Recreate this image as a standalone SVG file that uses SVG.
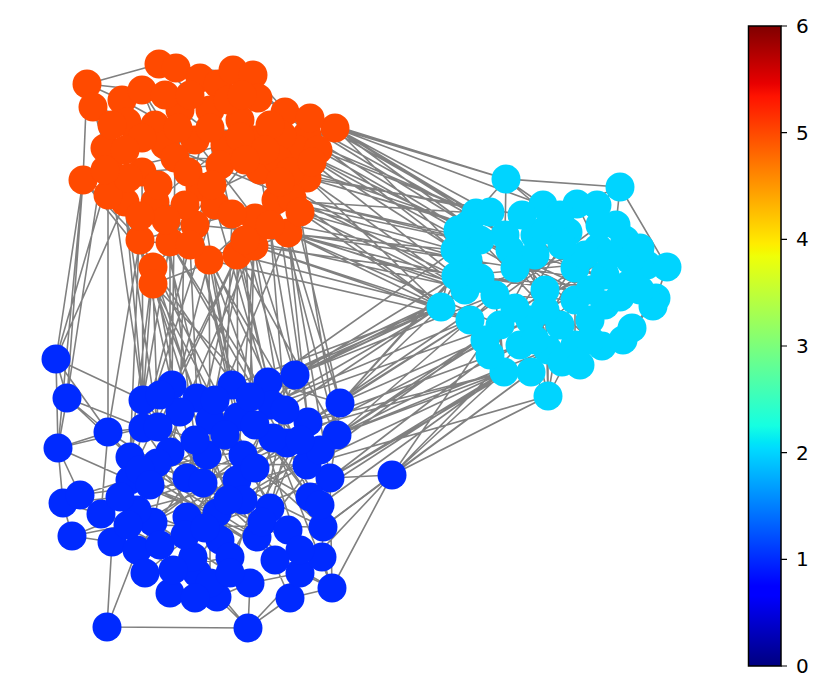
<svg xmlns="http://www.w3.org/2000/svg" width="830" height="699" viewBox="0 0 830 699">
<style>
.e{stroke:#808080;stroke-width:1.6;fill:none}
.o{fill:#FF4A00}
.c{fill:#00D4FF}
.b{fill:#002AFF}
circle{r:14.5px}
.t{font-family:"DejaVu Sans",sans-serif;font-size:20px;fill:#000}
.k{stroke:#000;stroke-width:1.2}
</style>
<defs>
<linearGradient id="jet" x1="0" y1="1" x2="0" y2="0">
<stop offset="0" stop-color="#000080"/>
<stop offset="0.11" stop-color="#0000FF"/>
<stop offset="0.125" stop-color="#0000FF"/>
<stop offset="0.34" stop-color="#00DBFF"/>
<stop offset="0.35" stop-color="#00E6F7"/>
<stop offset="0.375" stop-color="#15FFE2"/>
<stop offset="0.64" stop-color="#EFFF08"/>
<stop offset="0.65" stop-color="#F7F600"/>
<stop offset="0.66" stop-color="#FFEC00"/>
<stop offset="0.89" stop-color="#FF1300"/>
<stop offset="0.91" stop-color="#E80000"/>
<stop offset="1" stop-color="#800000"/>
</linearGradient>
</defs>
<rect width="830" height="699" fill="#fff"/>
<g id="connectors">
<path class="e" d="M87 84L159 64M87 84L142 90M87 84L83 180M87 84L122 100M93 107L105 148M93 107L155 125M159 64L253 75M159 64L210 110M176 68L218 84M200 78L258 98M233 70L285 112M253 75L307 135M258 98L335 128M285 112L335 128M335 128L298 150M335 128L307 178M307 135L307 178M298 150L276 200M105 148L125 202M83 180L125 202M83 180L140 240M83 180L153 267M110 172L153 284M125 202L209 260M140 240L237 255M153 267L195 225M153 284L254 246M209 260L276 200M237 255L288 233M254 246L307 178M288 233L307 135M276 200L335 128M170 242L240 120M195 225L285 112M155 125L255 140M180 110L260 170M165 145L292 198M195 140L255 218M225 145L155 202M142 172L220 165M175 158L278 160M200 187L258 98M155 202L288 233M185 205L298 150M215 205L142 90M127 122L282 135M110 172L225 145M122 100L195 140M142 90L165 145M200 78L175 158M218 84L185 205M210 110L215 205M240 120L195 225M270 125L170 242M245 240L200 187M292 198L140 240M307 178L220 165"/>
<path class="e" d="M506 179L620 187M506 179L476 213M506 179L505 235M506 179L543 205M506 179L568 232M620 187L667 267M620 187L597 205M620 187L616 225M620 187L577 204M543 205L535 255M577 204L598 248M597 205L625 240M476 213L468 260M468 225L495 295M455 250L441 307M441 307L465 290M441 307L470 320M441 307L468 260M504 372L531 372M504 372L500 325M504 372L495 295M531 372L548 396M548 396L548 350M548 396L530 320M548 396L575 345M548 396L560 325M548 396L545 290M602 346L623 340M623 340L656 298M632 328L653 306M575 345L575 268M647 265L667 267M667 267L656 298M656 298L628 285M548 350L575 300M505 235L545 290M535 235L605 305M568 232L470 320M598 248L465 290M468 260L628 285M510 250L590 320M535 255L640 290M575 268L500 325M605 275L530 320M495 295L575 300M520 345L605 275M480 240L560 325M616 225L647 265M625 240L640 290M468 225L510 250M458 230L605 305M490 212L575 345M522 215L548 350M560 215L500 325M600 225L470 320M630 260L456 276M610 255L485 340M585 255L535 340M456 276L640 290M480 278L620 297M515 268L590 340M562 245L490 355M590 290L458 230M620 297L522 215M545 310L600 225M515 308L630 260"/>
<path class="e" d="M56 359L67 398M56 359L108 432M56 359L58 448M56 359L143 400M67 398L108 432M67 398L143 428M67 398L58 448M67 398L130 457M58 448L63 503M58 448L80 495M58 448L108 432M58 448L130 480M63 503L80 495M63 503L72 536M63 503L101 514M80 495L101 514M72 536L112 542M107 627L112 542M107 627L137 550M107 627L248 628M248 628L217 597M248 628L250 583M248 628L290 598M248 628L210 583M392 475L248 628M392 475L332 588M332 588L290 598M332 588L322 557M332 588L300 573M322 557L323 527M323 527L330 478M330 478L337 435M330 478L392 475M340 403L337 435M340 403L308 422M340 403L268 382M295 375L268 382M295 375L272 405M143 400L172 385M172 385L197 398M197 398L232 385M232 385L268 382M108 432L143 428M108 432L101 514M108 432L130 457M143 428L207 455M158 427L243 455M180 412L273 438M210 420L287 443M238 417L307 465M272 405L310 497M308 422L270 508M170 452L323 527M130 457L257 537M130 480L217 513M187 478L322 557M203 483L300 573M237 480L290 598M243 500L170 593M217 513L145 573M187 517L250 583M153 522L230 573M137 510L220 540M220 540L272 405M257 537L337 435M230 557L308 422M193 557L232 385M173 570L238 417M210 583L210 420M230 573L295 375M157 463L307 465M140 470L287 443M137 550L243 500M112 542L237 480M145 573L230 557M170 593L217 597M217 597L250 583M250 583L300 573M80 495L207 455M101 514L243 455M72 536L137 510M137 550L197 573M143 400L130 457M143 400L170 452M172 385L203 483M197 398L237 480M337 435L307 465M287 443L270 508M273 438L332 588M243 455L323 527M330 478L332 588M392 475L323 527"/>
<path class="e" d="M130 457L270 508M137 510L307 465M153 522L243 455M187 478L101 514M130 480L257 537M170 452L217 513M157 463L230 557M140 470L300 573M187 517L287 443M120 497L272 405M101 514L337 435M112 542L308 422M143 428L220 540M158 427L187 517M180 412L153 522M207 455L137 550M243 455L170 593M273 438L187 517M287 443L203 483M307 465L217 513M300 440L228 500M255 468L320 505M255 425L310 497M285 410L262 522M225 435L288 530M195 440L275 560M250 397L300 550M215 400L255 468M160 395L203 483M130 457L322 557M150 485L332 588M128 525L323 527M160 545L320 450M185 535L330 478M205 528L295 375M228 500L143 400M80 495L150 485M72 536L128 525M63 503L120 497M58 448L143 428M108 432L157 463M101 514L160 545"/>
<path class="e" d="M335 128L506 179M335 128L476 213M335 128L468 225M335 128L505 235M307 135L468 260M298 150L455 250M307 178L468 225M307 178L441 307M307 178L465 290M288 233L441 307M288 233L495 295M288 233L468 260M276 200L476 213M276 200L455 250M254 246L441 307M254 246L470 320M285 112L506 179M285 112L505 235M292 198L480 240M292 198L510 250M278 160L468 225M282 135L476 213M307 135L480 240M260 170L465 290M255 218L468 260M245 240L495 295M237 255L441 307M209 260L470 320M195 225L455 250M298 150L510 250M335 128L468 260M288 233L500 325M276 200L465 290M292 198L441 307M285 112L468 225M307 178L505 235M335 128L543 205M270 125L476 213M310 118L506 179M318 150L458 230M312 162L456 276M300 212L468 260M300 212L441 307M290 172L490 212M270 225L465 290M254 246L480 278M288 233L456 276M307 178L522 215M335 128L490 212M310 118L476 213M298 150L515 268M276 200L510 250M292 198L495 295"/>
<path class="e" d="M83 180L56 359M110 172L143 400M125 202L56 359M140 240L172 385M153 267L143 400M153 284L197 398M209 260L232 385M237 255L268 382M254 246L295 375M288 233L340 403M276 200L308 422M170 242L272 405M195 225L238 417M155 202L210 420M185 205L180 412M215 205L143 428M255 218L158 427M245 240L307 465M140 240L108 432M153 267L130 457M153 284L207 455M209 260L273 438M237 255L337 435M254 246L287 443M288 233L330 478M170 242L170 452M195 225L243 455M125 202L158 427M105 148L67 398M142 172L143 428M110 172L56 359M175 158L172 385M200 187L232 385M220 165L268 382M260 170L295 375M292 198L340 403M215 205L272 405M209 260L157 463M237 255L187 478M254 246L237 480M153 267L310 497M195 225L130 480M153 284L270 508M245 240L210 420M276 200L337 435M83 180L67 398M153 284L158 427M153 267L180 412M170 242L143 400M190 245L197 398M209 260L210 420M237 255L238 417M254 246L250 397M270 225L285 410M288 233L308 422M300 212L337 435M245 240L255 425M232 214L225 435M166 220L195 440M140 216L130 457M108 195L108 432M83 180L58 448M125 202L143 400M140 240L255 468M153 284L300 440M209 260L320 450M237 255L120 497M254 246L150 485M288 233L187 478M195 225L307 465M170 242L320 505M153 267L228 500"/>
<path class="e" d="M340 403L441 307M340 403L470 320M295 375L441 307M295 375L465 290M337 435L500 325M337 435L504 372M308 422L470 320M308 422L495 295M268 382L465 290M272 405L441 307M330 478L504 372M392 475L548 396M392 475L504 372M392 475L531 372M307 465L500 325M287 443L530 320M273 438L504 372M232 385L441 307M238 417L470 320M337 435L548 350M310 497L504 372M340 403L468 260M268 382L455 250M295 375L495 295M308 422L520 345M330 478L548 350M307 465L548 396M272 405L500 325M308 422L504 372M340 403L530 320M337 435L520 345M323 527L531 372M340 403L456 276M337 435L485 340M320 450L470 320M330 478L490 355M392 475L520 345M392 475L485 340M295 375L456 276M268 382L441 307M285 410L465 290M307 465L504 372M320 505L504 372M250 397L441 307"/>
</g>
<g id="nodes-orange">
<g id="o0"><circle class="o" cx="159" cy="64" r="14.5"/></g>
<g id="o1"><circle class="o" cx="176" cy="68" r="14.5"/></g>
<g id="o2"><circle class="o" cx="200" cy="78" r="14.5"/></g>
<g id="o3"><circle class="o" cx="218" cy="84" r="14.5"/></g>
<g id="o4"><circle class="o" cx="233" cy="70" r="14.5"/></g>
<g id="o5"><circle class="o" cx="253" cy="75" r="14.5"/></g>
<g id="o6"><circle class="o" cx="87" cy="84" r="14.5"/></g>
<g id="o7"><circle class="o" cx="93" cy="107" r="14.5"/></g>
<g id="o8"><circle class="o" cx="122" cy="100" r="14.5"/></g>
<g id="o9"><circle class="o" cx="142" cy="90" r="14.5"/></g>
<g id="o10"><circle class="o" cx="258" cy="98" r="14.5"/></g>
<g id="o11"><circle class="o" cx="285" cy="112" r="14.5"/></g>
<g id="o12"><circle class="o" cx="335" cy="128" r="14.5"/></g>
<g id="o13"><circle class="o" cx="307" cy="135" r="14.5"/></g>
<g id="o14"><circle class="o" cx="298" cy="150" r="14.5"/></g>
<g id="o15"><circle class="o" cx="105" cy="148" r="14.5"/></g>
<g id="o16"><circle class="o" cx="83" cy="180" r="14.5"/></g>
<g id="o17"><circle class="o" cx="110" cy="172" r="14.5"/></g>
<g id="o18"><circle class="o" cx="125" cy="202" r="14.5"/></g>
<g id="o19"><circle class="o" cx="140" cy="240" r="14.5"/></g>
<g id="o20"><circle class="o" cx="153" cy="267" r="14.5"/></g>
<g id="o21"><circle class="o" cx="153" cy="284" r="14.5"/></g>
<g id="o22"><circle class="o" cx="209" cy="260" r="14.5"/></g>
<g id="o23"><circle class="o" cx="237" cy="255" r="14.5"/></g>
<g id="o24"><circle class="o" cx="254" cy="246" r="14.5"/></g>
<g id="o25"><circle class="o" cx="288" cy="233" r="14.5"/></g>
<g id="o26"><circle class="o" cx="276" cy="200" r="14.5"/></g>
<g id="o27"><circle class="o" cx="307" cy="178" r="14.5"/></g>
<g id="o28"><circle class="o" cx="170" cy="242" r="14.5"/></g>
<g id="o29"><circle class="o" cx="195" cy="225" r="14.5"/></g>
<g id="o30"><circle class="o" cx="155" cy="125" r="14.5"/></g>
<g id="o31"><circle class="o" cx="180" cy="110" r="14.5"/></g>
<g id="o32"><circle class="o" cx="210" cy="110" r="14.5"/></g>
<g id="o33"><circle class="o" cx="240" cy="120" r="14.5"/></g>
<g id="o34"><circle class="o" cx="165" cy="145" r="14.5"/></g>
<g id="o35"><circle class="o" cx="195" cy="140" r="14.5"/></g>
<g id="o36"><circle class="o" cx="225" cy="145" r="14.5"/></g>
<g id="o37"><circle class="o" cx="255" cy="140" r="14.5"/></g>
<g id="o38"><circle class="o" cx="282" cy="135" r="14.5"/></g>
<g id="o39"><circle class="o" cx="142" cy="172" r="14.5"/></g>
<g id="o40"><circle class="o" cx="175" cy="158" r="14.5"/></g>
<g id="o41"><circle class="o" cx="200" cy="187" r="14.5"/></g>
<g id="o42"><circle class="o" cx="220" cy="165" r="14.5"/></g>
<g id="o43"><circle class="o" cx="260" cy="170" r="14.5"/></g>
<g id="o44"><circle class="o" cx="292" cy="198" r="14.5"/></g>
<g id="o45"><circle class="o" cx="155" cy="202" r="14.5"/></g>
<g id="o46"><circle class="o" cx="185" cy="205" r="14.5"/></g>
<g id="o47"><circle class="o" cx="215" cy="205" r="14.5"/></g>
<g id="o48"><circle class="o" cx="255" cy="218" r="14.5"/></g>
<g id="o49"><circle class="o" cx="127" cy="122" r="14.5"/></g>
<g id="o50"><circle class="o" cx="270" cy="125" r="14.5"/></g>
<g id="o51"><circle class="o" cx="245" cy="240" r="14.5"/></g>
<g id="o53"><circle class="o" cx="278" cy="160" r="14.5"/></g>
<g id="o54"><circle class="o" cx="165" cy="95" r="14.5"/></g>
<g id="o55"><circle class="o" cx="190" cy="95" r="14.5"/></g>
<g id="o56"><circle class="o" cx="228" cy="100" r="14.5"/></g>
<g id="o57"><circle class="o" cx="242" cy="95" r="14.5"/></g>
<g id="o58"><circle class="o" cx="112" cy="125" r="14.5"/></g>
<g id="o59"><circle class="o" cx="142" cy="138" r="14.5"/></g>
<g id="o60"><circle class="o" cx="178" cy="128" r="14.5"/></g>
<g id="o61"><circle class="o" cx="210" cy="128" r="14.5"/></g>
<g id="o62"><circle class="o" cx="240" cy="137" r="14.5"/></g>
<g id="o63"><circle class="o" cx="265" cy="150" r="14.5"/></g>
<g id="o64"><circle class="o" cx="290" cy="172" r="14.5"/></g>
<g id="o65"><circle class="o" cx="158" cy="185" r="14.5"/></g>
<g id="o66"><circle class="o" cx="188" cy="172" r="14.5"/></g>
<g id="o67"><circle class="o" cx="212" cy="185" r="14.5"/></g>
<g id="o68"><circle class="o" cx="245" cy="160" r="14.5"/></g>
<g id="o69"><circle class="o" cx="280" cy="182" r="14.5"/></g>
<g id="o70"><circle class="o" cx="300" cy="212" r="14.5"/></g>
<g id="o71"><circle class="o" cx="270" cy="225" r="14.5"/></g>
<g id="o72"><circle class="o" cx="232" cy="214" r="14.5"/></g>
<g id="o73"><circle class="o" cx="190" cy="245" r="14.5"/></g>
<g id="o74"><circle class="o" cx="166" cy="220" r="14.5"/></g>
<g id="o75"><circle class="o" cx="140" cy="216" r="14.5"/></g>
<g id="o76"><circle class="o" cx="108" cy="195" r="14.5"/></g>
<g id="o77"><circle class="o" cx="318" cy="150" r="14.5"/></g>
<g id="o78"><circle class="o" cx="310" cy="118" r="14.5"/></g>
<g id="o79"><circle class="o" cx="312" cy="162" r="14.5"/></g>
<g id="o80"><circle class="o" cx="128" cy="178" r="14.5"/></g>
<g id="o81"><circle class="o" cx="125" cy="150" r="14.5"/></g>
<g id="o82"><circle class="o" cx="105" cy="170" r="14.5"/></g>
</g>
<g id="nodes-cyan">
<g id="c0"><circle class="c" cx="506" cy="179" r="14.5"/></g>
<g id="c1"><circle class="c" cx="620" cy="187" r="14.5"/></g>
<g id="c2"><circle class="c" cx="543" cy="205" r="14.5"/></g>
<g id="c3"><circle class="c" cx="577" cy="204" r="14.5"/></g>
<g id="c4"><circle class="c" cx="597" cy="205" r="14.5"/></g>
<g id="c5"><circle class="c" cx="476" cy="213" r="14.5"/></g>
<g id="c6"><circle class="c" cx="468" cy="225" r="14.5"/></g>
<g id="c7"><circle class="c" cx="616" cy="225" r="14.5"/></g>
<g id="c8"><circle class="c" cx="625" cy="240" r="14.5"/></g>
<g id="c9"><circle class="c" cx="647" cy="265" r="14.5"/></g>
<g id="c10"><circle class="c" cx="667" cy="267" r="14.5"/></g>
<g id="c11"><circle class="c" cx="656" cy="298" r="14.5"/></g>
<g id="c12"><circle class="c" cx="653" cy="306" r="14.5"/></g>
<g id="c13"><circle class="c" cx="441" cy="307" r="14.5"/></g>
<g id="c14"><circle class="c" cx="504" cy="372" r="14.5"/></g>
<g id="c15"><circle class="c" cx="531" cy="372" r="14.5"/></g>
<g id="c16"><circle class="c" cx="548" cy="396" r="14.5"/></g>
<g id="c17"><circle class="c" cx="602" cy="346" r="14.5"/></g>
<g id="c18"><circle class="c" cx="623" cy="340" r="14.5"/></g>
<g id="c19"><circle class="c" cx="632" cy="328" r="14.5"/></g>
<g id="c20"><circle class="c" cx="575" cy="345" r="14.5"/></g>
<g id="c21"><circle class="c" cx="548" cy="350" r="14.5"/></g>
<g id="c22"><circle class="c" cx="505" cy="235" r="14.5"/></g>
<g id="c23"><circle class="c" cx="535" cy="235" r="14.5"/></g>
<g id="c24"><circle class="c" cx="568" cy="232" r="14.5"/></g>
<g id="c25"><circle class="c" cx="598" cy="248" r="14.5"/></g>
<g id="c26"><circle class="c" cx="468" cy="260" r="14.5"/></g>
<g id="c27"><circle class="c" cx="510" cy="250" r="14.5"/></g>
<g id="c28"><circle class="c" cx="535" cy="255" r="14.5"/></g>
<g id="c29"><circle class="c" cx="575" cy="268" r="14.5"/></g>
<g id="c30"><circle class="c" cx="605" cy="275" r="14.5"/></g>
<g id="c31"><circle class="c" cx="628" cy="285" r="14.5"/></g>
<g id="c32"><circle class="c" cx="465" cy="290" r="14.5"/></g>
<g id="c33"><circle class="c" cx="495" cy="295" r="14.5"/></g>
<g id="c34"><circle class="c" cx="545" cy="290" r="14.5"/></g>
<g id="c35"><circle class="c" cx="575" cy="300" r="14.5"/></g>
<g id="c36"><circle class="c" cx="605" cy="305" r="14.5"/></g>
<g id="c37"><circle class="c" cx="470" cy="320" r="14.5"/></g>
<g id="c38"><circle class="c" cx="500" cy="325" r="14.5"/></g>
<g id="c39"><circle class="c" cx="530" cy="320" r="14.5"/></g>
<g id="c40"><circle class="c" cx="560" cy="325" r="14.5"/></g>
<g id="c41"><circle class="c" cx="590" cy="320" r="14.5"/></g>
<g id="c42"><circle class="c" cx="455" cy="250" r="14.5"/></g>
<g id="c43"><circle class="c" cx="640" cy="290" r="14.5"/></g>
<g id="c44"><circle class="c" cx="520" cy="345" r="14.5"/></g>
<g id="c45"><circle class="c" cx="480" cy="240" r="14.5"/></g>
<g id="c46"><circle class="c" cx="545" cy="230" r="14.5"/></g>
<g id="c47"><circle class="c" cx="490" cy="212" r="14.5"/></g>
<g id="c48"><circle class="c" cx="522" cy="215" r="14.5"/></g>
<g id="c49"><circle class="c" cx="560" cy="215" r="14.5"/></g>
<g id="c50"><circle class="c" cx="600" cy="225" r="14.5"/></g>
<g id="c51"><circle class="c" cx="630" cy="260" r="14.5"/></g>
<g id="c52"><circle class="c" cx="610" cy="255" r="14.5"/></g>
<g id="c53"><circle class="c" cx="585" cy="255" r="14.5"/></g>
<g id="c54"><circle class="c" cx="456" cy="276" r="14.5"/></g>
<g id="c55"><circle class="c" cx="480" cy="278" r="14.5"/></g>
<g id="c56"><circle class="c" cx="515" cy="268" r="14.5"/></g>
<g id="c57"><circle class="c" cx="562" cy="245" r="14.5"/></g>
<g id="c58"><circle class="c" cx="590" cy="290" r="14.5"/></g>
<g id="c59"><circle class="c" cx="620" cy="297" r="14.5"/></g>
<g id="c60"><circle class="c" cx="485" cy="340" r="14.5"/></g>
<g id="c61"><circle class="c" cx="535" cy="340" r="14.5"/></g>
<g id="c62"><circle class="c" cx="562" cy="362" r="14.5"/></g>
<g id="c63"><circle class="c" cx="590" cy="340" r="14.5"/></g>
<g id="c64"><circle class="c" cx="580" cy="365" r="14.5"/></g>
<g id="c65"><circle class="c" cx="545" cy="310" r="14.5"/></g>
<g id="c66"><circle class="c" cx="515" cy="308" r="14.5"/></g>
<g id="c67"><circle class="c" cx="458" cy="230" r="14.5"/></g>
<g id="c68"><circle class="c" cx="490" cy="355" r="14.5"/></g>
<g id="c69"><circle class="c" cx="640" cy="248" r="14.5"/></g>
</g>
<g id="nodes-blue">
<g id="b0"><circle class="b" cx="56" cy="359" r="14.5"/></g>
<g id="b1"><circle class="b" cx="67" cy="398" r="14.5"/></g>
<g id="b2"><circle class="b" cx="108" cy="432" r="14.5"/></g>
<g id="b3"><circle class="b" cx="143" cy="400" r="14.5"/></g>
<g id="b4"><circle class="b" cx="172" cy="385" r="14.5"/></g>
<g id="b5"><circle class="b" cx="197" cy="398" r="14.5"/></g>
<g id="b6"><circle class="b" cx="232" cy="385" r="14.5"/></g>
<g id="b7"><circle class="b" cx="268" cy="382" r="14.5"/></g>
<g id="b8"><circle class="b" cx="295" cy="375" r="14.5"/></g>
<g id="b9"><circle class="b" cx="340" cy="403" r="14.5"/></g>
<g id="b10"><circle class="b" cx="337" cy="435" r="14.5"/></g>
<g id="b11"><circle class="b" cx="308" cy="422" r="14.5"/></g>
<g id="b12"><circle class="b" cx="272" cy="405" r="14.5"/></g>
<g id="b13"><circle class="b" cx="238" cy="417" r="14.5"/></g>
<g id="b14"><circle class="b" cx="210" cy="420" r="14.5"/></g>
<g id="b15"><circle class="b" cx="180" cy="412" r="14.5"/></g>
<g id="b16"><circle class="b" cx="143" cy="428" r="14.5"/></g>
<g id="b17"><circle class="b" cx="158" cy="427" r="14.5"/></g>
<g id="b18"><circle class="b" cx="58" cy="448" r="14.5"/></g>
<g id="b19"><circle class="b" cx="63" cy="503" r="14.5"/></g>
<g id="b20"><circle class="b" cx="80" cy="495" r="14.5"/></g>
<g id="b21"><circle class="b" cx="101" cy="514" r="14.5"/></g>
<g id="b22"><circle class="b" cx="72" cy="536" r="14.5"/></g>
<g id="b23"><circle class="b" cx="112" cy="542" r="14.5"/></g>
<g id="b24"><circle class="b" cx="137" cy="550" r="14.5"/></g>
<g id="b25"><circle class="b" cx="145" cy="573" r="14.5"/></g>
<g id="b26"><circle class="b" cx="170" cy="593" r="14.5"/></g>
<g id="b27"><circle class="b" cx="217" cy="597" r="14.5"/></g>
<g id="b28"><circle class="b" cx="250" cy="583" r="14.5"/></g>
<g id="b29"><circle class="b" cx="197" cy="573" r="14.5"/></g>
<g id="b30"><circle class="b" cx="107" cy="627" r="14.5"/></g>
<g id="b31"><circle class="b" cx="248" cy="628" r="14.5"/></g>
<g id="b32"><circle class="b" cx="290" cy="598" r="14.5"/></g>
<g id="b33"><circle class="b" cx="300" cy="573" r="14.5"/></g>
<g id="b34"><circle class="b" cx="332" cy="588" r="14.5"/></g>
<g id="b35"><circle class="b" cx="322" cy="557" r="14.5"/></g>
<g id="b36"><circle class="b" cx="323" cy="527" r="14.5"/></g>
<g id="b37"><circle class="b" cx="330" cy="478" r="14.5"/></g>
<g id="b38"><circle class="b" cx="310" cy="497" r="14.5"/></g>
<g id="b39"><circle class="b" cx="392" cy="475" r="14.5"/></g>
<g id="b40"><circle class="b" cx="307" cy="465" r="14.5"/></g>
<g id="b41"><circle class="b" cx="287" cy="443" r="14.5"/></g>
<g id="b42"><circle class="b" cx="273" cy="438" r="14.5"/></g>
<g id="b43"><circle class="b" cx="243" cy="455" r="14.5"/></g>
<g id="b44"><circle class="b" cx="207" cy="455" r="14.5"/></g>
<g id="b45"><circle class="b" cx="170" cy="452" r="14.5"/></g>
<g id="b46"><circle class="b" cx="130" cy="457" r="14.5"/></g>
<g id="b47"><circle class="b" cx="130" cy="480" r="14.5"/></g>
<g id="b48"><circle class="b" cx="187" cy="478" r="14.5"/></g>
<g id="b49"><circle class="b" cx="203" cy="483" r="14.5"/></g>
<g id="b50"><circle class="b" cx="237" cy="480" r="14.5"/></g>
<g id="b51"><circle class="b" cx="270" cy="508" r="14.5"/></g>
<g id="b52"><circle class="b" cx="243" cy="500" r="14.5"/></g>
<g id="b53"><circle class="b" cx="217" cy="513" r="14.5"/></g>
<g id="b54"><circle class="b" cx="187" cy="517" r="14.5"/></g>
<g id="b55"><circle class="b" cx="153" cy="522" r="14.5"/></g>
<g id="b56"><circle class="b" cx="137" cy="510" r="14.5"/></g>
<g id="b57"><circle class="b" cx="220" cy="540" r="14.5"/></g>
<g id="b58"><circle class="b" cx="257" cy="537" r="14.5"/></g>
<g id="b59"><circle class="b" cx="230" cy="557" r="14.5"/></g>
<g id="b60"><circle class="b" cx="193" cy="557" r="14.5"/></g>
<g id="b61"><circle class="b" cx="173" cy="570" r="14.5"/></g>
<g id="b62"><circle class="b" cx="210" cy="583" r="14.5"/></g>
<g id="b63"><circle class="b" cx="230" cy="573" r="14.5"/></g>
<g id="b64"><circle class="b" cx="157" cy="463" r="14.5"/></g>
<g id="b65"><circle class="b" cx="140" cy="470" r="14.5"/></g>
<g id="b66"><circle class="b" cx="195" cy="440" r="14.5"/></g>
<g id="b67"><circle class="b" cx="225" cy="435" r="14.5"/></g>
<g id="b68"><circle class="b" cx="255" cy="425" r="14.5"/></g>
<g id="b69"><circle class="b" cx="285" cy="410" r="14.5"/></g>
<g id="b70"><circle class="b" cx="320" cy="450" r="14.5"/></g>
<g id="b71"><circle class="b" cx="255" cy="468" r="14.5"/></g>
<g id="b72"><circle class="b" cx="228" cy="500" r="14.5"/></g>
<g id="b73"><circle class="b" cx="262" cy="522" r="14.5"/></g>
<g id="b74"><circle class="b" cx="288" cy="530" r="14.5"/></g>
<g id="b75"><circle class="b" cx="300" cy="550" r="14.5"/></g>
<g id="b76"><circle class="b" cx="275" cy="560" r="14.5"/></g>
<g id="b77"><circle class="b" cx="185" cy="535" r="14.5"/></g>
<g id="b78"><circle class="b" cx="160" cy="545" r="14.5"/></g>
<g id="b79"><circle class="b" cx="128" cy="525" r="14.5"/></g>
<g id="b80"><circle class="b" cx="120" cy="497" r="14.5"/></g>
<g id="b81"><circle class="b" cx="150" cy="485" r="14.5"/></g>
<g id="b82"><circle class="b" cx="160" cy="395" r="14.5"/></g>
<g id="b83"><circle class="b" cx="215" cy="400" r="14.5"/></g>
<g id="b84"><circle class="b" cx="250" cy="397" r="14.5"/></g>
<g id="b85"><circle class="b" cx="300" cy="440" r="14.5"/></g>
<g id="b86"><circle class="b" cx="320" cy="505" r="14.5"/></g>
<g id="b87"><circle class="b" cx="195" cy="598" r="14.5"/></g>
<g id="b88"><circle class="b" cx="205" cy="528" r="14.5"/></g>
</g>
<g id="colorbar">
<rect x="748.5" y="26" width="32.5" height="640" fill="url(#jet)" stroke="#000" stroke-width="1.5"/>
<path class="k" d="M781 666H787M781 559.3H787M781 452.7H787M781 346H787M781 239.3H787M781 132.7H787M781 26H787"/>
<text class="t" x="796" y="673">0</text>
<text class="t" x="796" y="566.3">1</text>
<text class="t" x="796" y="459.7">2</text>
<text class="t" x="796" y="353">3</text>
<text class="t" x="796" y="246.3">4</text>
<text class="t" x="796" y="139.7">5</text>
<text class="t" x="796" y="33">6</text>
</g>
</svg>
